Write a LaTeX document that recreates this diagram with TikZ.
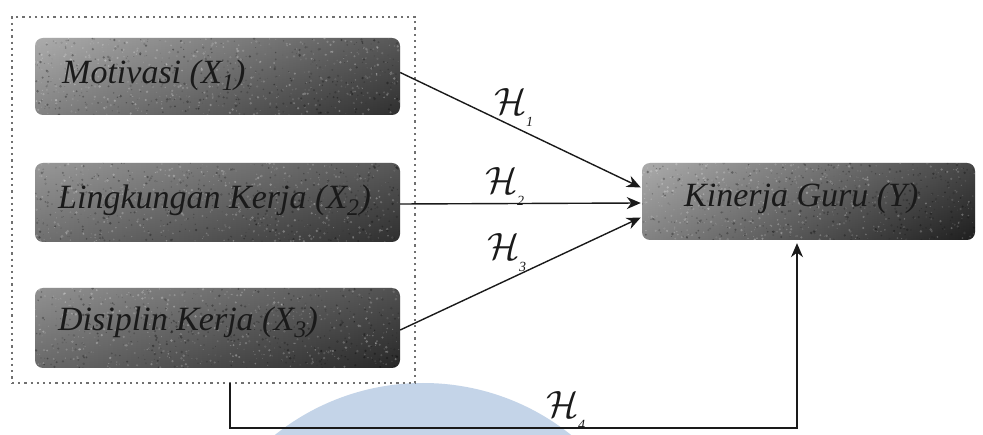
\documentclass[tikz,border=0pt]{standalone}
\usepackage{fontspec}
\usepackage{graphicx}
\setmainfont{Liberation Serif}
\usetikzlibrary{arrows.meta,calc}

\definecolor{inkline}{HTML}{1A1A1A}
\definecolor{boxlight}{HTML}{9C9C9C}
\definecolor{boxmid}{HTML}{6A6A6A}
\definecolor{boxdark}{HTML}{383838}
\definecolor{groupdot}{HTML}{707070}
\definecolor{sealblue}{HTML}{C4D4E8}

% grainy texture inside a rounded box: centre x, centre y, width, height
\newcommand\speckbox[4]{%
  \begin{scope}
    \clip[rounded corners=8pt] ({#1-#3/2},{#2-#4/2}) rectangle ({#1+#3/2},{#2+#4/2});
    \shade[top color=white, bottom color=black, opacity=0.16]
      ({#1-#3/2},{#2-#4/2}) rectangle ({#1+#3/2},{#2+#4/2});
    \foreach \k in {1,...,520}{%
      \pgfmathsetmacro\px{#1+(rnd-0.5)*#3}%
      \pgfmathsetmacro\py{#2+(rnd-0.5)*#4}%
      \pgfmathsetmacro\pr{0.4+1.0*rnd}%
      \pgfmathsetmacro\po{0.08+0.22*rnd}%
      \fill[white,opacity=\po] (\px,\py) circle[radius=\pr];
    }
    \foreach \k in {1,...,420}{%
      \pgfmathsetmacro\px{#1+(rnd-0.5)*#3}%
      \pgfmathsetmacro\py{#2+(rnd-0.5)*#4}%
      \pgfmathsetmacro\pr{0.4+1.0*rnd}%
      \pgfmathsetmacro\po{0.10+0.25*rnd}%
      \fill[black,opacity=\po] (\px,\py) circle[radius=\pr];
    }
  \end{scope}}

% hypothesis mark with a low-set index
\newcommand\hyp[1]{\scalebox{3.8}{$\mathcal{H}$}\kern-1pt\raisebox{-12pt}{\fontsize{14}{14}\selectfont\itshape #1}}

\tikzset{
  varbox/.style={rounded corners=8pt, inner sep=0pt, draw=none,
    left color=boxlight, right color=boxdark, middle color=boxmid},
  varlabel/.style={anchor=west, inner sep=0pt, text=inkline,
    font=\fontsize{34}{36}\selectfont\itshape},
  hyplabel/.style={inner sep=0pt, text=inkline},
  link/.style={draw=inkline, line width=1.4pt, -{Stealth[length=14pt,width=12pt]}},
  groupframe/.style={draw=groupdot, line width=2.2pt,
    dash pattern=on 2.2pt off 4pt, inner sep=0pt}
}

\begin{document}
\begin{tikzpicture}[x=1pt,y=-1pt]
  \useasboundingbox (0,0) rectangle (983,435);
  \fill[white] (0,0) rectangle (983,435);

  % pale blue seal behind the lower connector
  \begin{scope}
    \clip (0,0) rectangle (983,435);
    \fill[sealblue] (423,620) circle[radius=237];
  \end{scope}

  \pgfmathsetseed{4172}

  % dotted frame round the independent variables
  \node[groupframe, minimum width=403pt, minimum height=366pt] (grp) at (213.5,200) {};

  % variable boxes
  \node[varbox, minimum width=365pt, minimum height=77pt] (mot) at (217.5,76.5) {};
  \node[varbox, minimum width=365pt, minimum height=79pt,
        left color=boxlight!85!black] (lin) at (217.5,202.5) {};
  \node[varbox, minimum width=365pt, minimum height=80pt,
        left color=boxlight!80!black, right color=boxdark!85!black] (dis) at (217.5,328) {};
  \node[varbox, minimum width=333pt, minimum height=77pt,
        right color=boxdark!110] (kin) at (808.5,201.5) {};

  \speckbox{217.5}{76.5}{365}{77}
  \speckbox{217.5}{202.5}{365}{79}
  \speckbox{217.5}{328}{365}{80}
  \speckbox{808.5}{201.5}{333}{77}

  \node[varlabel] (motT) at (62,75) {Motivasi (X\textsubscript{1})};
  \node[varlabel] (linT) at (58,200) {Lingkungan Kerja (X\textsubscript{2})};
  \node[varlabel] (disT) at (58,322) {Disiplin Kerja (X\textsubscript{3})};
  \node[varlabel] (kinT) at (684,198) {Kinerja Guru (Y)};

  % arrow ends on the dependent variable
  \coordinate (k1) at ($(kin.west)+(-1,-14)$);
  \coordinate (k2) at ($(kin.west)+(-1,1.5)$);
  \coordinate (k3) at ($(kin.west)+(-1,16)$);
  \coordinate (k4) at ($(kin.south)+(-11.5,3)$);
  \coordinate (g4) at (230,383);
  \coordinate (low) at (230,428);

  \draw[link] ($(mot.east)+(0,-4)$) -- (k1);
  \draw[link] ($(lin.east)+(0,1.5)$) -- (k2);
  \draw[link] ($(dis.east)+(0,2)$) -- (k3);
  \draw[link] (g4) -- (low) -| (k4);

  % hypothesis labels
  \node[hyplabel] (h1) at (514,108) {\hyp{1}};
  \node[hyplabel] (h2) at (505,187) {\hyp{2}};
  \node[hyplabel] (h3) at (507,253) {\hyp{3}};
  \node[hyplabel] (h4) at (566,411) {\hyp{4}};
\end{tikzpicture}
\end{document}
